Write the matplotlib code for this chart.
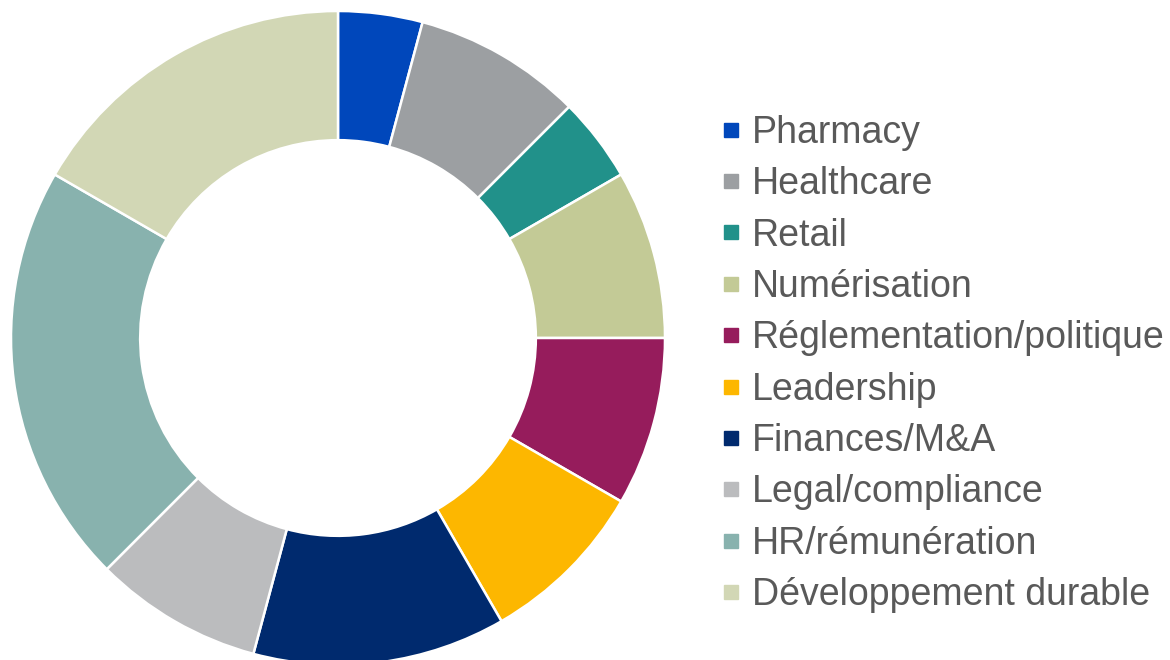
import numpy as np
import matplotlib.pyplot as plt
from matplotlib.lines import Line2D

plt.rcParams['font.family'] = ['Liberation Sans', 'DejaVu Sans']

# segments, clockwise from 12 o'clock
categories = ["Pharmacy", "Healthcare", "Retail", "Numérisation",
              "Réglementation/politique", "Leadership", "Finances/M&A",
              "Legal/compliance", "HR/rémunération", "Développement durable"]
values = [1, 2, 1, 2, 2, 2, 3, 2, 5, 4]
colors = ["#0047BB", "#9C9FA2", "#21918A", "#C3CA96", "#961C5C",
          "#FDB700", "#002A6E", "#BBBCBE", "#88B2AE", "#D2D7B5"]

fig = plt.figure(figsize=(11.7, 6.6), dpi=100)
# axes placed so the ring centre sits at about (338, 338) px, radius 327 px
ax = fig.add_axes([11 / 1170, -5 / 660, 654 / 1170, 654 / 660])
ax.pie(values, colors=colors, startangle=90, counterclock=False,
       radius=1.0, wedgeprops=dict(width=0.395, edgecolor="white", linewidth=1.8))
ax.set_xlim(-1, 1)
ax.set_ylim(-1, 1)
ax.set_aspect("equal")
ax.axis("off")

handles = [Line2D([], [], linestyle="none", marker="s", markersize=10,
                  markerfacecolor=c, markeredgecolor=c) for c in colors]
leg = fig.legend(handles, categories, loc="center left",
                 bbox_to_anchor=(706 / 1170, 0.4485), frameon=False,
                 fontsize=27, labelcolor="#595959", handlelength=0.55,
                 handletextpad=0.28, labelspacing=0.41, borderaxespad=0)

fig.savefig("out.png", dpi=100)
